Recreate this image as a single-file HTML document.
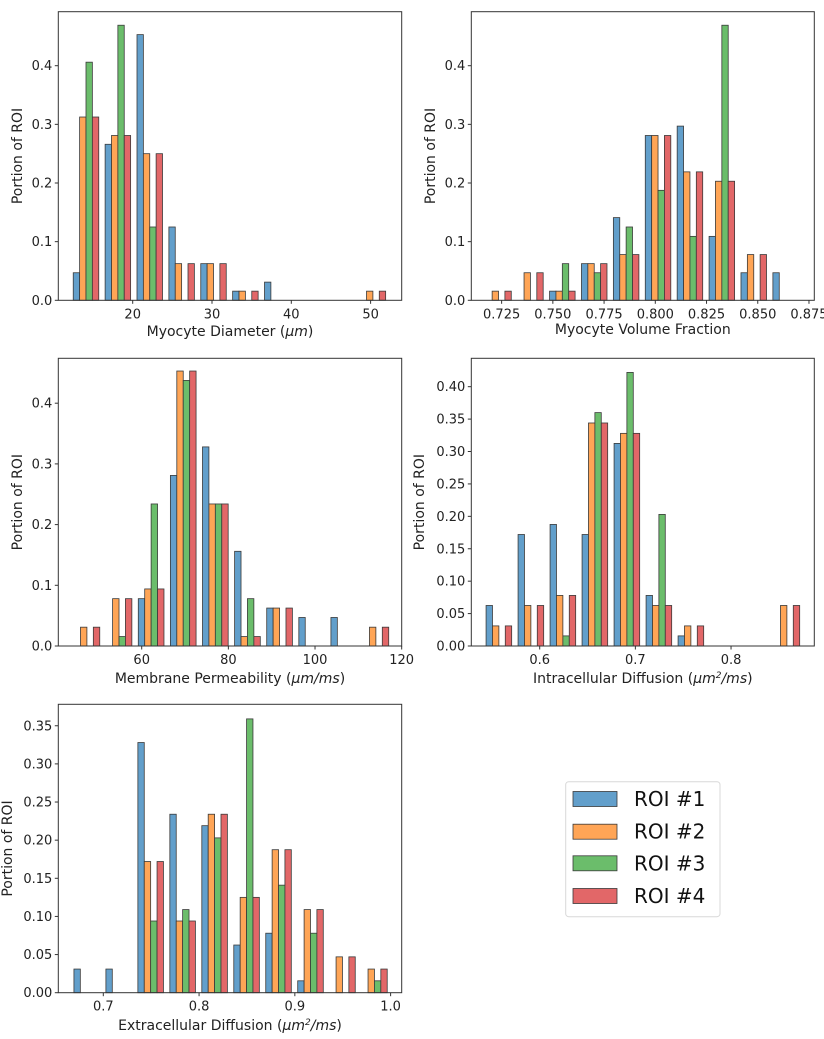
<!DOCTYPE html>
<html><head><meta charset="utf-8"><style>
body{margin:0;background:#fff;}
svg{display:block;font-family:"DejaVu Sans","Liberation Sans",sans-serif;}
</style></head><body>
<svg id="fig" width="824" height="1039" viewBox="0 0 824 1039"></svg>
<script>
const seriesNames = ["ROI #1","ROI #2","ROI #3","ROI #4"];
const seriesColors = ["#629fcb","#ffa556","#6bbd6b","#e26768"];

// Panel 1: Myocyte Diameter
const p1BinStart = 12.1, p1BinWidth = 4.02;
const p1Roi1 = [0.047,0.266,0.453,0.125,0.0625,0.0156,0.031,0,0,0];
const p1Roi2 = [0.3125,0.281,0.25,0.0625,0.0625,0.0156,0,0,0,0.0156];
const p1Roi3 = [0.406,0.469,0.125,0,0,0,0,0,0,0];
const p1Roi4 = [0.3125,0.281,0.25,0.0625,0.0625,0.0156,0,0,0,0.0156];
const p1XTicks = [20,30,40,50];
const p1YTicks = [0,0.1,0.2,0.3,0.4];

// Panel 2: Myocyte Volume Fraction
const p2BinStart = 0.7157, p2BinWidth = 0.01557;
const p2Roi1 = [0,0,0.0156,0.0625,0.141,0.281,0.297,0.109,0.047,0.047];
const p2Roi2 = [0.0156,0.047,0.0156,0.0625,0.078,0.281,0.219,0.203,0.078,0];
const p2Roi3 = [0,0,0.0625,0.047,0.125,0.1875,0.109,0.469,0,0];
const p2Roi4 = [0.0156,0.047,0.0156,0.0625,0.078,0.281,0.219,0.203,0.078,0];
const p2XTicks = [0.725,0.75,0.775,0.8,0.825,0.85,0.875];
const p2YTicks = [0,0.1,0.2,0.3,0.4];

// Panel 3: Membrane Permeability
const p3BinStart = 43.65, p3BinWidth = 7.41;
const p3Roi1 = [0,0,0.078,0.281,0.328,0.156,0.0625,0.047,0.047,0];
const p3Roi2 = [0.031,0.078,0.094,0.453,0.234,0.0156,0.0625,0,0,0.031];
const p3Roi3 = [0,0.0156,0.234,0.4375,0.234,0.078,0,0,0,0];
const p3Roi4 = [0.031,0.078,0.094,0.453,0.234,0.0156,0.0625,0,0,0.031];
const p3XTicks = [60,80,100,120];
const p3YTicks = [0,0.1,0.2,0.3,0.4];

// Panel 4: Intracellular Diffusion
const p4BinStart = 0.5406, p4BinWidth = 0.03345;
const p4Roi1 = [0.0625,0.172,0.1875,0.172,0.3125,0.078,0.0156,0,0,0];
const p4Roi2 = [0.031,0.0625,0.078,0.344,0.328,0.0625,0.031,0,0,0.0625];
const p4Roi3 = [0,0,0.0156,0.36,0.422,0.203,0,0,0,0];
const p4Roi4 = [0.031,0.0625,0.078,0.344,0.328,0.0625,0.031,0,0,0.0625];
const p4XTicks = [0.6,0.7,0.8];
const p4YTicks = [0,0.05,0.1,0.15,0.2,0.25,0.3,0.35,0.4];

// Panel 5: Extracellular Diffusion
const p5BinStart = 0.666, p5BinWidth = 0.03338;
const p5Roi1 = [0.031,0.031,0.328,0.234,0.219,0.0625,0.078,0.0156,0,0];
const p5Roi2 = [0,0,0.172,0.094,0.234,0.125,0.1875,0.109,0.047,0.031];
const p5Roi3 = [0,0,0.094,0.109,0.203,0.359,0.141,0.078,0,0.0156];
const p5Roi4 = [0,0,0.172,0.094,0.234,0.125,0.1875,0.109,0.047,0.031];
const p5XTicks = [0.7,0.8,0.9,1.0];
const p5YTicks = [0,0.05,0.1,0.15,0.2,0.25,0.3,0.35];

const NS = "http://www.w3.org/2000/svg";
const svg = document.getElementById("fig");
function mk(tag, attrs, parent){
  const e = document.createElementNS(NS, tag);
  for (const k in attrs) e.setAttribute(k, attrs[k]);
  (parent||svg).appendChild(e);
  return e;
}

function panel(cfg){
  const g = mk("g", {});
  
  
  const L=cfg.left,R=cfg.right,T=cfg.top,B=cfg.bottom;
  const xs = v => cfg.x0px + (v - cfg.x0) * cfg.xppu;
  const ys = v => B - v * cfg.yppu;
  const series = [cfg.s1,cfg.s2,cfg.s3,cfg.s4];
  const bw = cfg.binWidth;
  for (let s=0;s<4;s++){
    for (let i=0;i<series[s].length;i++){
      const v = series[s][i];
      if (v<=0) continue;
      const binL = cfg.binStart + i*bw;
      const x1 = xs(binL + 0.1*bw + s*0.2*bw);
      const x2 = xs(binL + 0.1*bw + (s+1)*0.2*bw);
      const r = mk("rect", {x:x1,y:ys(v),width:x2-x1,height:B-ys(v),fill:seriesColors[s],stroke:"#3a3a3a","stroke-width":0.8}, g);
      
      
    }
  }
  const frame = mk("rect", {x:L,y:T,width:R-L,height:B-T,fill:"none",stroke:"#333","stroke-width":1}, g);
  
  
  cfg.yTicks.forEach(t=>{
    const y = ys(t);
    mk("line",{x1:L-3.5,x2:L,y1:y,y2:y,stroke:"#333"},g);
    const tx = mk("text",{x:L-6,y:y+4.5,"text-anchor":"end","font-size":13,fill:"#222"},g);
    tx.textContent = t.toFixed(cfg.yDec);
    
    
  });
  cfg.xTicks.forEach(t=>{
    const x = xs(t);
    mk("line",{x1:x,x2:x,y1:B,y2:B+3.5,stroke:"#333"},g);
    const tx = mk("text",{x:x,y:B+18,"text-anchor":"middle","font-size":13,fill:"#222"},g);
    tx.textContent = t.toFixed(cfg.xDec);
    
    
  });
  const yl = mk("text",{x:0,y:0,"text-anchor":"middle","font-size":14,fill:"#222",transform:`translate(${cfg.ylx},${(T+B)/2}) rotate(-90)`},g);
  yl.textContent = "Portion of ROI";
  
  
  const xl = mk("text",{x:(L+R)/2,y:cfg.xly,"text-anchor":"middle","font-size":14,fill:"#222"},g);
  xl.innerHTML = cfg.xlabel;
  
  
}

panel({name:"myocyte-diameter-panel",left:58.3,right:401.7,top:11.7,bottom:300.3,x0:20,x0px:132.7,xppu:7.93,yppu:586.5,
  binStart:p1BinStart,binWidth:p1BinWidth,s1:p1Roi1,s2:p1Roi2,s3:p1Roi3,s4:p1Roi4,xTicks:p1XTicks,yTicks:p1YTicks,xDec:0,yDec:1,
  ylx:22,xly:336,xlabel:'Myocyte Diameter (<tspan font-style="italic">μm</tspan>)'});
panel({name:"myocyte-volume-fraction-panel",left:471.3,right:814.3,top:11.7,bottom:300.3,x0:0.8,x0px:655.3,xppu:2049,yppu:586.5,
  binStart:p2BinStart,binWidth:p2BinWidth,s1:p2Roi1,s2:p2Roi2,s3:p2Roi3,s4:p2Roi4,xTicks:p2XTicks,yTicks:p2YTicks,xDec:3,yDec:1,
  ylx:435,xly:334,xlabel:'Myocyte Volume Fraction'});
panel({name:"membrane-permeability-panel",left:58.3,right:401.7,top:358.3,bottom:646,x0:60,x0px:141.7,xppu:4.333,yppu:607,
  binStart:p3BinStart,binWidth:p3BinWidth,s1:p3Roi1,s2:p3Roi2,s3:p3Roi3,s4:p3Roi4,xTicks:p3XTicks,yTicks:p3YTicks,xDec:0,yDec:1,
  ylx:22,xly:683,xlabel:'Membrane Permeability (<tspan font-style="italic">μm/ms</tspan>)'});
panel({name:"intracellular-diffusion-panel",left:471.3,right:814.3,top:358.3,bottom:646,x0:0.6,x0px:539.7,xppu:956.7,yppu:648.3,
  binStart:p4BinStart,binWidth:p4BinWidth,s1:p4Roi1,s2:p4Roi2,s3:p4Roi3,s4:p4Roi4,xTicks:p4XTicks,yTicks:p4YTicks,xDec:1,yDec:2,
  ylx:424,xly:683,xlabel:'Intracellular Diffusion (<tspan font-style="italic">μm<tspan dy="-5" font-size="9">2</tspan><tspan dy="5">/ms</tspan></tspan>)'});
panel({name:"extracellular-diffusion-panel",left:58.3,right:401.7,top:704.3,bottom:992.7,x0:0.7,x0px:103.3,xppu:957.7,yppu:762.7,
  binStart:p5BinStart,binWidth:p5BinWidth,s1:p5Roi1,s2:p5Roi2,s3:p5Roi3,s4:p5Roi4,xTicks:p5XTicks,yTicks:p5YTicks,xDec:1,yDec:2,
  ylx:12,xly:1030,xlabel:'Extracellular Diffusion (<tspan font-style="italic">μm<tspan dy="-5" font-size="9">2</tspan><tspan dy="5">/ms</tspan></tspan>)'});

// legend
const lg = mk("g",{});


mk("rect",{x:565.7,y:781.7,width:154.3,height:135,rx:3,fill:"#fff",stroke:"#d8d8d8","stroke-width":1},lg);
const legendY = [799,831.7,863.3,896];
seriesNames.forEach((n,i)=>{
  const e = mk("g",{},lg);
  
  
  mk("rect",{x:573,y:legendY[i]-7.5,width:44,height:15,fill:seriesColors[i],stroke:"#3a3a3a","stroke-width":0.8},e);
  const t = mk("text",{x:634,y:legendY[i]+7,"font-size":20,fill:"#111"},e);
  t.textContent = n;
});
</script>
</body></html>
